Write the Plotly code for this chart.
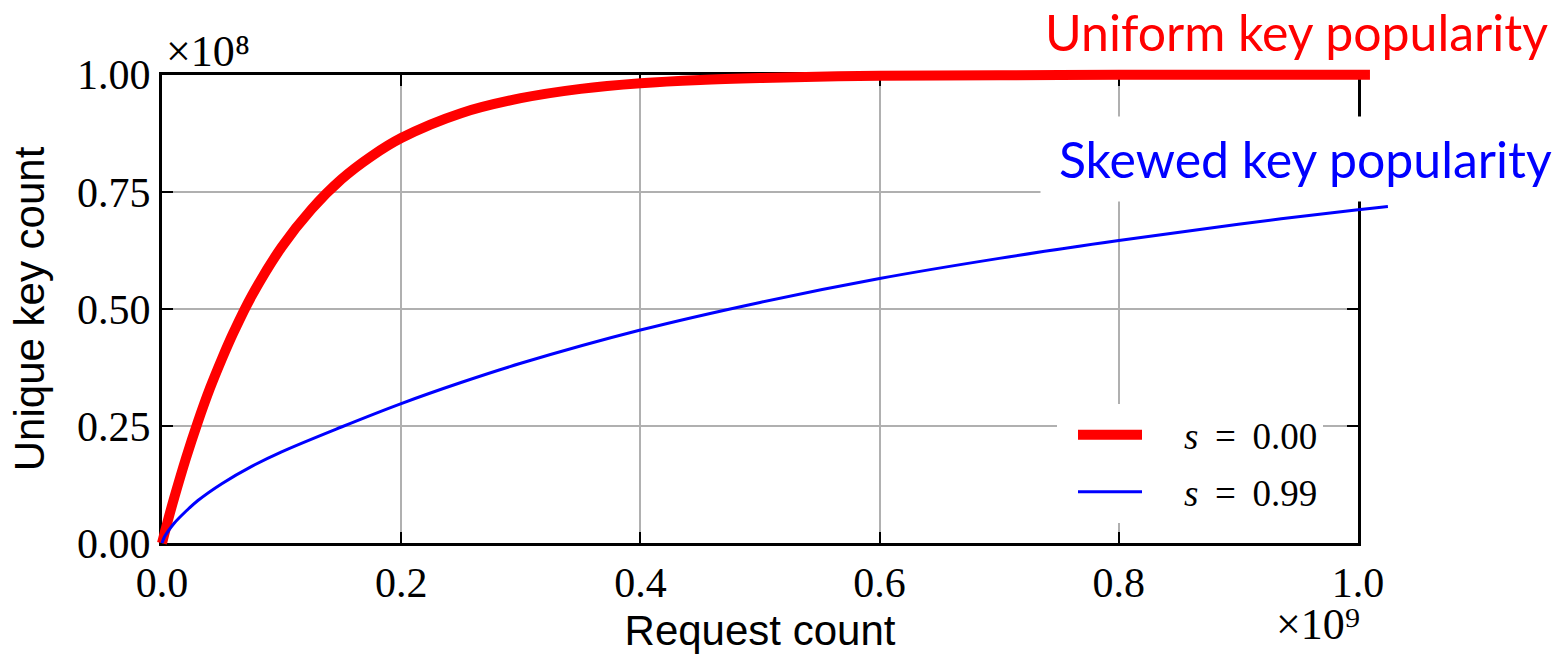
import plotly.graph_objects as go

# Request counts (x 1e9) and unique key counts (x 1e8)
request_uniform = [0, 0.005, 0.01, 0.02, 0.03, 0.04, 0.05, 0.06, 0.075, 0.1, 0.125, 0.15,
                   0.175, 0.2, 0.25, 0.3, 0.35, 0.4, 0.45, 0.5, 0.6, 0.7, 0.8, 0.9, 1.0, 1.01]
keys_uniform = [0, 0.049, 0.095, 0.181, 0.259, 0.33, 0.393, 0.451, 0.528, 0.632, 0.713, 0.777,
                0.826, 0.865, 0.918, 0.950, 0.970, 0.982, 0.989, 0.993, 0.998, 0.999, 1.0, 1.0, 1.0, 1.0]

request_skewed = [0, 0.002, 0.005, 0.01, 0.02, 0.03, 0.05, 0.075, 0.1, 0.15, 0.2, 0.25, 0.3,
                  0.4, 0.5, 0.6, 0.7, 0.8, 0.9, 1.0, 1.025]
keys_skewed = [0, 0.013, 0.025, 0.042, 0.068, 0.091, 0.127, 0.164, 0.195, 0.248, 0.298, 0.343,
               0.384, 0.455, 0.514, 0.565, 0.608, 0.646, 0.681, 0.712, 0.719]

NB = "\u00a0"
series_names = [NB * 4 + "<i>s</i>" + NB + "\u2009=\u2009" + NB + "0.00",
                NB * 4 + "<i>s</i>" + NB + "\u2009=\u2009" + NB + "0.99"]
series_colors = ["#ff0000", "#0000ff"]
series_widths = [10, 3]

x_ticks = [0, 0.2, 0.4, 0.6, 0.8, 1.0]
y_ticks = [0, 0.25, 0.5, 0.75, 1.0]

W, H = 1553, 659
# paper region (px) and the framed axes box inside it (px)
L, R, T, B = 150, 1400, 60, 560
X0, X1, Y0, Y1 = 162, 1358, 550, 75


def px_x(p):
    return (p - L) / (R - L)


def px_y(p):
    return (B - p) / (B - T)


SERIF = "Liberation Serif"
SANS = "Liberation Sans"
LABEL = "Lato"

fig = go.Figure()
# empty trace so the framed axes (x, y) are drawn
fig.add_trace(go.Scatter(x=[0.5], y=[0.5], mode="none", hoverinfo="skip",
                         showlegend=False, xaxis="x", yaxis="y"))
for i, (xs, ys, name, color, width) in enumerate(zip(
    [request_uniform, request_skewed], [keys_uniform, keys_skewed],
    series_names, series_colors, series_widths
)):
    fig.add_trace(go.Scatter(
        x=xs, y=ys, mode="lines", name=name, legendgroup=f"g{i}",
        line=dict(color=color, width=width, shape="spline", smoothing=1.0),
        xaxis="x2", yaxis="y2",
    ))

axis_common = dict(
    showline=True, linecolor="black", linewidth=3, mirror="allticks",
    ticks="inside", ticklen=11, tickwidth=1.5, tickcolor="black",
    showgrid=True, gridcolor="#b0b0b0", gridwidth=1.5, zeroline=False,
    tickfont=dict(family=SERIF, size=42, color="black"),
)

fig.update_layout(
    width=W, height=H,
    margin=dict(l=L, r=W - R, t=T, b=H - B, pad=0),
    paper_bgcolor="white", plot_bgcolor="rgba(0,0,0,0)",
    xaxis=dict(
        domain=[px_x(X0), px_x(X1)], range=[0, 1.0], anchor="y",
        tickvals=x_ticks, tickformat=".1f",
        title=dict(text="Request count", font=dict(family=SANS, size=42, color="black"), standoff=12),
        **axis_common,
    ),
    yaxis=dict(
        domain=[px_y(Y0), px_y(Y1)], range=[0, 1.0], anchor="x",
        tickvals=y_ticks, tickformat=".2f",
        title=dict(text="Unique key count", font=dict(family=SANS, size=42, color="black"), standoff=20),
        **axis_common,
    ),
    # invisible axes sharing the same pixel scale, wide enough for the curves to run past the frame
    xaxis2=dict(
        domain=[0, 1], anchor="y2", visible=False,
        range=[-(X0 - L) / (X1 - X0), 1 + (R - X1) / (X1 - X0)],
    ),
    yaxis2=dict(
        domain=[0, 1], anchor="x2", visible=False,
        range=[-(B - Y0) / (Y0 - Y1), 1 + (Y1 - T) / (Y0 - Y1)],
    ),
    showlegend=True,
    legend=dict(
        x=px_x(1057), y=px_y(409), xanchor="left", yanchor="top",
        bgcolor="white", borderwidth=0, indentation=16,
        font=dict(family=SERIF, size=37, color="black"),
        itemwidth=64, tracegroupgap=6,
    ),
    annotations=[
        dict(text="Uniform key popularity", x=px_x(1550), y=px_y(32), xref="paper", yref="paper",
             xanchor="right", yanchor="middle", showarrow=False, bgcolor="white",
             font=dict(family=LABEL, size=50, color="#ff0000")),
        dict(text="Skewed key popularity", x=px_x(1553), y=px_y(160), xref="paper", yref="paper",
             xanchor="right", yanchor="middle", showarrow=False, bgcolor="white",
             width=511, height=84, align="right", borderpad=0,
             font=dict(family=LABEL, size=50, color="#0000ff")),
        dict(text="×10⁸", x=px_x(164), y=px_y(78), xref="paper", yref="paper",
             xanchor="left", yanchor="bottom", showarrow=False,
             font=dict(family=SERIF, size=44, color="black")),
        dict(text="×10⁹", x=px_x(1362), y=px_y(659), xref="paper", yref="paper",
             xanchor="right", yanchor="bottom", showarrow=False,
             font=dict(family=SERIF, size=44, color="black")),
    ],
)

fig.write_html("out.html")
